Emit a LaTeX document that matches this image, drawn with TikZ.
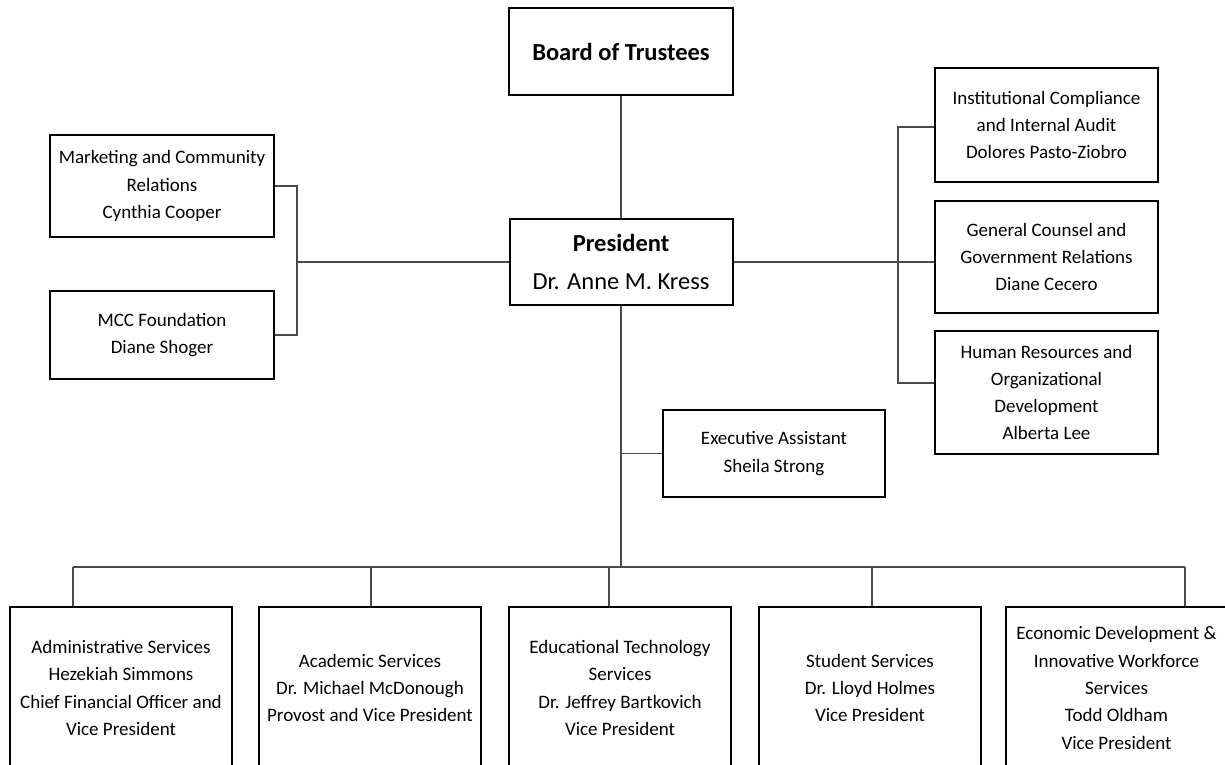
\documentclass[tikz,border=0pt]{standalone}
\usepackage{fontspec}
\setmainfont{Carlito}
\usetikzlibrary{positioning,calc}
\definecolor{linkgray}{HTML}{4A4A4A}
\tikzset{
  unit/.style={rectangle,draw=black,line width=2pt,fill=white,align=center,inner sep=0pt,font=\fontsize{19}{27.3}\selectfont},
  headunit/.style={unit,font=\fontsize{24.5}{38}\selectfont},
  link/.style={draw=linkgray,line width=1.2pt}
}

\begin{document}
\begin{tikzpicture}[x=1pt,y=-1pt]
  \useasboundingbox (0,0) rectangle (1225,764);
  % top of the chart
  \node[headunit,minimum width=224pt,minimum height=87pt] (board) at (621,51.5) {\textbf{Board of Trustees}};
  \node[headunit,minimum width=223pt,minimum height=86pt] (president) at (621,262) {\textbf{President}\\Dr. Anne M. Kress};
  % left side
  \node[unit,minimum width=224pt,minimum height=102pt] (marketing) at (162,186) {Marketing and Community\\Relations\\Cynthia Cooper};
  \node[unit,minimum width=224pt,minimum height=88pt] (foundation) at (162,335) {MCC Foundation\\Diane Shoger};
  % right side
  \node[unit,minimum width=223pt,minimum height=114pt] (compliance) at (1046.5,125) {Institutional Compliance\\and Internal Audit\\Dolores Pasto-Ziobro};
  \node[unit,minimum width=223pt,minimum height=112pt] (counsel) at (1046.5,257) {General Counsel and\\Government Relations\\Diane Cecero};
  \node[unit,minimum width=223pt,minimum height=123pt] (humanres) at (1046.5,392.5) {Human Resources and\\Organizational\\Development\\Alberta Lee};
  \node[unit,minimum width=222pt,minimum height=87pt] (execassist) at (774,453.5) {Executive Assistant\\Sheila Strong};
  % vice presidents
  \node[unit,minimum width=222pt,minimum height=162pt] (admin) at (121,688) {Administrative Services\\Hezekiah Simmons\\Chief Financial Officer and\\Vice President};
  \node[unit,minimum width=222pt,minimum height=162pt] (academic) at (370,688) {Academic Services\\Dr. Michael McDonough\\Provost and Vice President};
  \node[unit,minimum width=222pt,minimum height=162pt] (edtech) at (620,688) {Educational Technology\\Services\\Dr. Jeffrey Bartkovich\\Vice President};
  \node[unit,minimum width=222pt,minimum height=162pt] (student) at (870,688) {Student Services\\Dr. Lloyd Holmes\\Vice President};
  \node[unit,minimum width=221pt,minimum height=162pt] (econdev) at (1116.5,688) {Economic Development \&\\Innovative Workforce\\Services\\Todd Oldham\\Vice President};

  % junction points
  \coordinate (leftbar) at (297,262);
  \coordinate (rightbar) at (898,262);
  \coordinate (bus) at (621,567);
  \coordinate (drop-admin) at (73,567);
  \coordinate (drop-academic) at (371,567);
  \coordinate (drop-edtech) at (609,567);
  \coordinate (drop-student) at (872,567);
  \coordinate (drop-econdev) at (1185,567);

  \draw[link] (board) -- (president);
  \draw[link] (president.west) -- (leftbar);
  \draw[link] (marketing.east) -- (marketing.east -| leftbar) -- (foundation.east -| leftbar) -- (foundation.east);
  \draw[link] (president.east) -- (president.east -| counsel.west);
  \draw[link] ($(compliance.west)+(0,2)$) -- ($(compliance.west -| rightbar)+(0,2)$) -- ($(humanres.west -| rightbar)+(0,-9.5)$) -- ($(humanres.west)+(0,-9.5)$);
  \draw[link] (president.south) -- (bus);
  \draw[link] (execassist.west -| bus) -- (execassist.west);
  \draw[link] (drop-admin) -- (drop-econdev);
  \foreach \vp in {admin,academic,edtech,student,econdev}
    \draw[link] (drop-\vp) -- (drop-\vp |- \vp.north);
\end{tikzpicture}
\end{document}
